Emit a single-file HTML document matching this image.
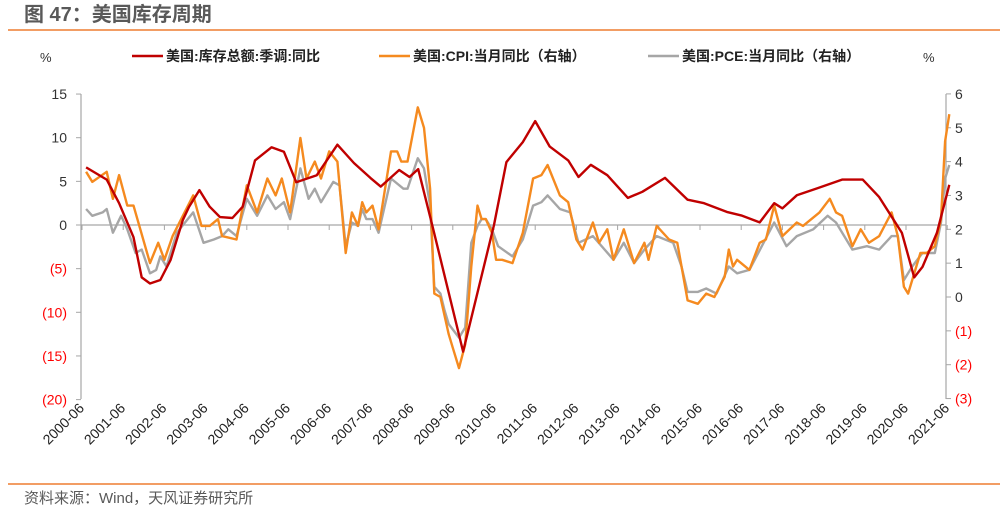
<!DOCTYPE html>
<html><head><meta charset="utf-8"><style>
body{margin:0;background:#fff;width:1007px;height:516px;overflow:hidden;font-family:"Liberation Sans","Noto Sans CJK SC",sans-serif}
</style></head><body>
<svg id="c" width="1007" height="516" xmlns="http://www.w3.org/2000/svg" font-family="Liberation Sans, Noto Sans CJK SC, sans-serif">
<text x="24" y="21" font-size="20" font-weight="bold" fill="#595959">图 47：美国库存周期</text>
<line x1="8" y1="30" x2="1000" y2="30" stroke="#ED7D31" stroke-width="1.5"/>
<line x1="8" y1="484" x2="1000" y2="484" stroke="#ED7D31" stroke-width="1.5"/>
<text x="24" y="503" font-size="15" fill="#595959">资料来源：Wind，天风证券研究所</text>
<text x="40" y="62" font-size="13" fill="#333">%</text>
<text x="923" y="62" font-size="13" fill="#333">%</text>
<g font-size="14" font-weight="bold" fill="#222">
<g><line x1="132" y1="56" x2="163" y2="56" stroke="#C00000" stroke-width="2.5"/><text x="166" y="61">美国:库存总额:季调:同比</text></g>
<g><line x1="379" y1="56" x2="410" y2="56" stroke="#F58A1F" stroke-width="2.5"/><text x="413" y="61">美国:CPI:当月同比（右轴）</text></g>
<g><line x1="648" y1="56" x2="679" y2="56" stroke="#A6A6A6" stroke-width="2.5"/><text x="682" y="61">美国:PCE:当月同比（右轴）</text></g>
</g>
<g id="axes"></g>
<g id="series"></g>
</svg>
<script>
const leftTicks=[15,10,5,0,-5,-10,-15,-20];
const rightTicks=[6,5,4,3,2,1,0,-1,-2,-3];
const yearLabels=["2000-06","2001-06","2002-06","2003-06","2004-06","2005-06","2006-06","2007-06","2008-06","2009-06","2010-06","2011-06","2012-06","2013-06","2014-06","2015-06","2016-06","2017-06","2018-06","2019-06","2020-06","2021-06"];
const invDates=[2000.6,2001.1,2001.4,2001.75,2001.95,2002.15,2002.4,2002.65,2002.95,2003.1,2003.35,2003.6,2003.85,2004.15,2004.4,2004.7,2005.1,2005.4,2005.7,2006.2,2006.7,2007.1,2007.5,2007.75,2008.2,2008.45,2008.66,2009.0,2009.75,2010.5,2010.8,2011.2,2011.5,2011.85,2012.3,2012.55,2012.85,2013.25,2013.75,2014.1,2014.65,2015.2,2015.6,2016.15,2016.5,2016.95,2017.3,2017.5,2017.85,2018.35,2018.95,2019.45,2019.85,2020.2,2020.4,2020.7,2020.9,2021.25,2021.55];
const invValues=[6.6,5.2,2.5,-1.4,-6.0,-6.7,-6.3,-4.0,0.6,2.1,4.0,2.1,0.9,0.8,2.1,7.4,8.9,8.4,4.9,5.7,9.2,7.1,5.4,4.4,6.3,5.5,6.4,0,-14.5,0,7.2,9.5,11.9,9.0,7.4,5.5,6.9,5.7,3.1,3.8,5.4,2.9,2.5,1.5,1.1,0.3,2.5,1.9,3.4,4.2,5.2,5.2,3.2,0.6,-0.9,-6.0,-4.8,-0.9,4.6];
const cpiDates=[2000.6,2000.75,2001.1,2001.25,2001.4,2001.6,2001.75,2002.15,2002.35,2002.5,2002.7,2003.2,2003.4,2003.6,2003.8,2003.9,2004.25,2004.5,2004.75,2005.0,2005.2,2005.35,2005.55,2005.8,2005.95,2006.15,2006.3,2006.5,2006.7,2006.9,2007.05,2007.2,2007.3,2007.4,2007.55,2007.7,2008.0,2008.15,2008.25,2008.4,2008.65,2008.8,2008.95,2009.05,2009.2,2009.4,2009.5,2009.65,2009.8,2009.95,2010.1,2010.2,2010.3,2010.45,2010.55,2010.7,2010.95,2011.2,2011.45,2011.65,2011.8,2012.1,2012.3,2012.5,2012.65,2012.9,2013.05,2013.25,2013.4,2013.65,2013.9,2014.15,2014.25,2014.45,2014.75,2014.95,2015.2,2015.45,2015.65,2015.85,2016.1,2016.2,2016.3,2016.4,2016.7,2016.95,2017.1,2017.3,2017.5,2017.85,2018.0,2018.4,2018.65,2018.8,2018.95,2019.2,2019.4,2019.6,2019.85,2020.15,2020.3,2020.45,2020.55,2020.85,2021.0,2021.2,2021.35,2021.45,2021.55];
const cpiValues=[3.7,3.4,3.7,2.9,3.6,2.7,2.7,1.0,1.6,1.1,1.8,3.0,2.1,2.1,2.3,1.8,1.7,3.3,2.5,3.5,3.0,3.5,2.5,4.7,3.5,4.0,3.5,4.3,4.0,1.3,2.5,2.1,2.8,2.5,2.7,2.0,4.3,4.3,4.0,4.0,5.6,5.0,3.2,0.1,0,-1.1,-1.5,-2.1,-1.4,0.9,2.7,2.3,2.3,1.9,1.1,1.1,1.0,1.9,3.5,3.6,3.9,3.0,2.8,1.7,1.4,2.2,1.6,2.0,1.1,2.0,1.0,1.6,1.1,2.1,1.7,1.6,-0.1,-0.2,0.1,0,0.6,1.4,0.9,1.1,0.8,1.6,1.7,2.7,1.8,2.2,2.1,2.5,2.9,2.5,2.4,1.5,2.0,1.6,1.8,2.5,1.8,0.3,0.1,1.3,1.3,1.5,2.3,4.6,5.4];
const pceDates=[2000.6,2000.75,2001.0,2001.1,2001.25,2001.45,2001.6,2001.8,2001.95,2002.15,2002.3,2002.4,2002.55,2002.8,2003.2,2003.45,2003.7,2003.9,2004.05,2004.25,2004.5,2004.75,2005.0,2005.2,2005.4,2005.55,2005.8,2006.0,2006.15,2006.3,2006.6,2006.75,2006.9,2007.05,2007.2,2007.3,2007.4,2007.55,2007.7,2008.0,2008.3,2008.4,2008.65,2008.8,2008.95,2009.05,2009.2,2009.3,2009.4,2009.65,2009.8,2009.95,2010.1,2010.2,2010.3,2010.45,2010.6,2010.95,2011.2,2011.45,2011.65,2011.8,2012.1,2012.35,2012.55,2012.9,2013.4,2013.65,2013.9,2014.15,2014.45,2014.85,2015.05,2015.2,2015.45,2015.65,2015.9,2016.2,2016.4,2016.7,2017.0,2017.3,2017.6,2017.85,2018.25,2018.6,2018.8,2019.2,2019.55,2019.85,2020.15,2020.3,2020.45,2020.65,2020.9,2021.2,2021.35,2021.45,2021.55];
const pceValues=[2.6,2.4,2.5,2.6,1.9,2.4,2.0,1.3,1.4,0.7,0.8,1.2,0.9,1.9,2.5,1.6,1.7,1.8,2.0,1.8,2.9,2.4,3.0,2.6,2.8,2.3,3.8,2.9,3.2,2.8,3.4,3.3,1.5,2.2,2.1,2.6,2.3,2.3,1.9,3.5,3.2,3.2,4.1,3.8,2.7,0.3,0.1,-0.4,-0.8,-1.2,-0.9,1.6,2.1,2.3,2.3,2.0,1.5,1.2,1.7,2.7,2.8,3.0,2.6,2.5,1.6,1.8,1.1,1.6,1.0,1.4,1.8,1.6,0.9,0.15,0.15,0.25,0.1,0.9,0.7,0.8,1.5,2.2,1.5,1.8,2.0,2.4,2.2,1.4,1.5,1.4,1.8,1.8,0.5,0.9,1.3,1.3,2.2,3.5,3.9];

const NS="http://www.w3.org/2000/svg";
const X0=82,XS=41.2;
function xPos(t){return X0+(t-2000.5)*XS;}
function yLeft(v){return 225-v*8.73;}
function yRight(v){return 297-v*33.85;}
function mk(tag,attrs,parent){const e=document.createElementNS(NS,tag);for(const k in attrs)e.setAttribute(k,attrs[k]);parent.appendChild(e);return e;}
const axes=document.getElementById('axes'),series=document.getElementById('series');

const la=mk('line',{x1:81,y1:94,x2:81,y2:399,stroke:'#A6A6A6','stroke-width':1.2},axes);


const ra=mk('line',{x1:946,y1:94,x2:946,y2:399,stroke:'#A6A6A6','stroke-width':1.2},axes);


const zl=mk('line',{x1:81,y1:yLeft(0),x2:946,y2:yLeft(0),stroke:'#A6A6A6','stroke-width':1.2},axes);



leftTicks.forEach(v=>{
  const y=yLeft(v);
  mk('line',{x1:76,y1:y,x2:81,y2:y,stroke:'#A6A6A6'},axes);
  const t=mk('text',{x:67,y:y+5,'font-size':14,'text-anchor':'end',fill:v<0?'#FF0000':'#333'},axes);
  t.textContent=v<0?'('+(-v)+')':String(v);
  
  
});
rightTicks.forEach(v=>{
  const y=yRight(v);
  mk('line',{x1:946,y1:y,x2:951,y2:y,stroke:'#A6A6A6'},axes);
  const t=mk('text',{x:955,y:y+5,'font-size':14,'text-anchor':'start',fill:v<0?'#FF0000':'#333'},axes);
  t.textContent=v<0?'('+(-v)+')':String(v);
  
  
});
yearLabels.forEach((s,i)=>{
  const x=xPos(2000.5+i);
  mk('line',{x1:x,y1:yLeft(0),x2:x,y2:yLeft(0)+5,stroke:'#A6A6A6'},axes);
  const t=mk('text',{x:x+3,y:409,'font-size':14,'text-anchor':'end',fill:'#222',transform:'rotate(-45 '+(x+3)+' 409)'},axes);
  t.textContent=s;
  
  
});
function line(dates,vals,yf,color,name){
  const d=dates.map((t,i)=>(i?'L':'M')+xPos(t).toFixed(1)+' '+yf(vals[i]).toFixed(1)).join(' ');
  const p=mk('path',{d:d,fill:'none',stroke:color,'stroke-width':2.4,'stroke-linejoin':'round'},series);
  
  
}
line(pceDates,pceValues,yRight,'#A6A6A6','pce-line');
line(cpiDates,cpiValues,yRight,'#F58A1F','cpi-line');
line(invDates,invValues,yLeft,'#C00000','inventory-line');
</script>
</body></html>
